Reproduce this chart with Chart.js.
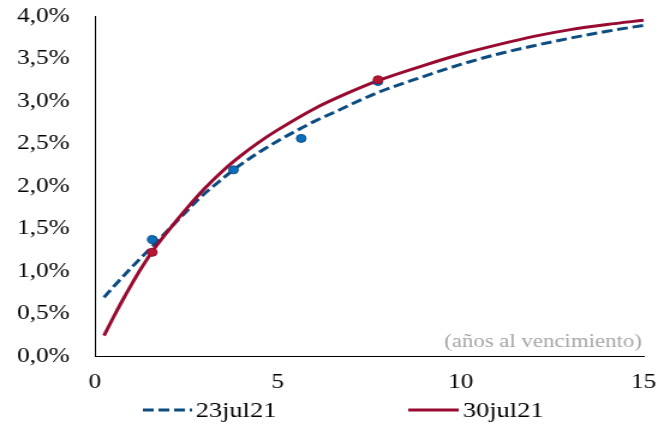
<!DOCTYPE html>
<html lang="es">
<head>
<meta charset="utf-8">
<title>Curva de rendimientos</title>
<script src="https://cdn.jsdelivr.net/npm/chart.js@4.4.1/dist/chart.umd.min.js"></script>
<style>
  html, body { margin: 0; padding: 0; background: #fff; overflow: hidden; }
  #wrap { width: 658px; height: 427px; }
  /* the reference is stretched sideways (round dots come out oval), so we draw narrow and widen */
  #chart { display: block; transform: scaleX(1.2007); transform-origin: 0 0; }
</style>
</head>
<body>
<div id="wrap"><canvas id="chart" width="548" height="427"></canvas></div>
<script>
// curva ajustada 23jul21 (años, %)
const plazos23 = [0.25, 0.5, 1.0, 1.57, 2.0, 2.5, 2.87, 3.5, 3.79, 4.5, 5.0, 5.64, 6.0, 6.71, 7.0, 7.74, 9.0, 10.0, 11.0, 12.0, 13.0, 14.0, 15.0];
const tasas23 = [0.69, 0.81, 1.04, 1.29, 1.48, 1.70, 1.86, 2.09, 2.19, 2.40, 2.53, 2.68, 2.76, 2.90, 2.96, 3.10, 3.29, 3.43, 3.55, 3.65, 3.74, 3.82, 3.89];

// curva ajustada 30jul21
const plazos30 = [0.25, 0.5, 0.75, 1.0, 1.25, 1.57, 2.0, 2.5, 3.0, 3.5, 4.0, 4.5, 5.0, 6.0, 7.0, 7.74, 9.0, 10.0, 11.0, 12.0, 13.0, 14.0, 15.0];
const tasas30 = [0.24, 0.45, 0.65, 0.84, 1.02, 1.23, 1.47, 1.73, 1.97, 2.18, 2.36, 2.52, 2.66, 2.91, 3.11, 3.24, 3.42, 3.55, 3.66, 3.76, 3.84, 3.90, 3.95];

// observaciones
const obsPlazos23 = [1.57, 3.79, 5.64, 7.74];
const obsTasas23 = [1.37, 2.19, 2.56, 3.23];
const obsPlazos30 = [1.57, 7.74];
const obsTasas30 = [1.22, 3.25];

const seriesNames = ['23jul21', '30jul21'];
const xTicks = [0, 5, 10, 15];
const axisNote = '(años al vencimiento)';

const colors = {
  blueLine: '#0d4c80',
  blueDot: '#0b6fbd',
  redLine: '#980a30',
  redDot: '#b5172f',
  note: '#a6a6a6',
};

const serif = '"Liberation Serif", "Times New Roman", Times, serif';

function points(xs, ys) {
  return xs.map((x, i) => ({ x, y: ys[i] }));
}

function formatPct(value) {
  return `${Number(value).toFixed(1).replace('.', ',')}%`;
}

const legendItems = [
  { label: seriesNames[0], color: colors.blueLine, dash: [9, 4], x0: 119, x1: 160, tx: 163 },
  { label: seriesNames[1], color: colors.redLine, dash: [], x0: 340, x1: 382, tx: 385.5 },
];

const decorations = {
  id: 'decorations',
  afterDraw(chart) {
    const { ctx, chartArea } = chart;
    ctx.save();
    ctx.font = `19px ${serif}`;
    ctx.fillStyle = colors.note;
    ctx.textAlign = 'right';
    ctx.textBaseline = 'middle';
    ctx.fillText(axisNote, chartArea.right - 1.5, chartArea.bottom - 14);

    const y = 410;
    ctx.font = `22px ${serif}`;
    ctx.fillStyle = '#000';
    ctx.textAlign = 'left';
    legendItems.forEach((item) => {
      ctx.beginPath();
      ctx.setLineDash(item.dash);
      ctx.strokeStyle = item.color;
      ctx.lineWidth = 3;
      ctx.moveTo(item.x0, y);
      ctx.lineTo(item.x1, y);
      ctx.stroke();
      ctx.setLineDash([]);
      ctx.fillText(item.label, item.tx, y + 1);
    });
    ctx.restore();
  },
};

function draw() {
  new Chart(document.getElementById('chart'), {
    type: 'line',
    data: {
      datasets: [
        {
          label: seriesNames[0],
          data: points(plazos23, tasas23),
          borderColor: colors.blueLine,
          borderWidth: 3,
          borderDash: [9, 4],
          pointRadius: 0,
          fill: false,
          cubicInterpolationMode: 'monotone',
          order: 3,
        },
        {
          label: seriesNames[1],
          data: points(plazos30, tasas30),
          borderColor: colors.redLine,
          borderWidth: 3,
          pointRadius: 0,
          fill: false,
          cubicInterpolationMode: 'monotone',
          order: 2,
        },
        {
          label: 'obs ' + seriesNames[0],
          data: points(obsPlazos23, obsTasas23),
          showLine: false,
          pointRadius: 4,
          pointBackgroundColor: colors.blueDot,
          pointBorderColor: colors.blueLine,
          pointBorderWidth: 1,
          order: 1,
        },
        {
          label: 'obs ' + seriesNames[1],
          data: points(obsPlazos30, obsTasas30),
          showLine: false,
          pointRadius: 4,
          pointBackgroundColor: colors.redDot,
          pointBorderColor: colors.redLine,
          pointBorderWidth: 1,
          order: 0,
        },
      ],
    },
    options: {
      responsive: false,
      animation: false,
      layout: { padding: { left: 0, right: 0, top: 16, bottom: 0 } },
      scales: {
        x: {
          type: 'linear',
          min: 0,
          max: 15,
          afterBuildTicks: (scale) => {
            scale.ticks = xTicks.map((value) => ({ value }));
          },
          afterFit: (scale) => {
            scale.height = 71;
            scale.paddingLeft = 0;
            scale.paddingRight = 12;
          },
          ticks: {
            color: '#000',
            font: { family: serif, size: 21 },
            padding: 14,
            maxRotation: 0,
          },
          grid: { display: false, drawTicks: false },
          border: { display: true, color: '#000', width: 1 },
        },
        y: {
          min: 0,
          max: 4,
          afterFit: (scale) => {
            scale.width = 79;
            scale.paddingTop = 0;
            scale.paddingBottom = 0;
          },
          ticks: {
            stepSize: 0.5,
            color: '#000',
            font: { family: serif, size: 21 },
            padding: 21,
            callback: (value) => formatPct(value),
          },
          grid: { display: false, drawTicks: false },
          border: { display: true, color: '#000', width: 1 },
        },
      },
      plugins: {
        legend: { display: false },
        tooltip: { enabled: false },
      },
    },
    plugins: [decorations],
  });
}

// canvas text falls back to the default serif unless the face is loaded first
document.fonts.load('21px "Liberation Serif"').then(draw, draw);
</script>
</body>
</html>
